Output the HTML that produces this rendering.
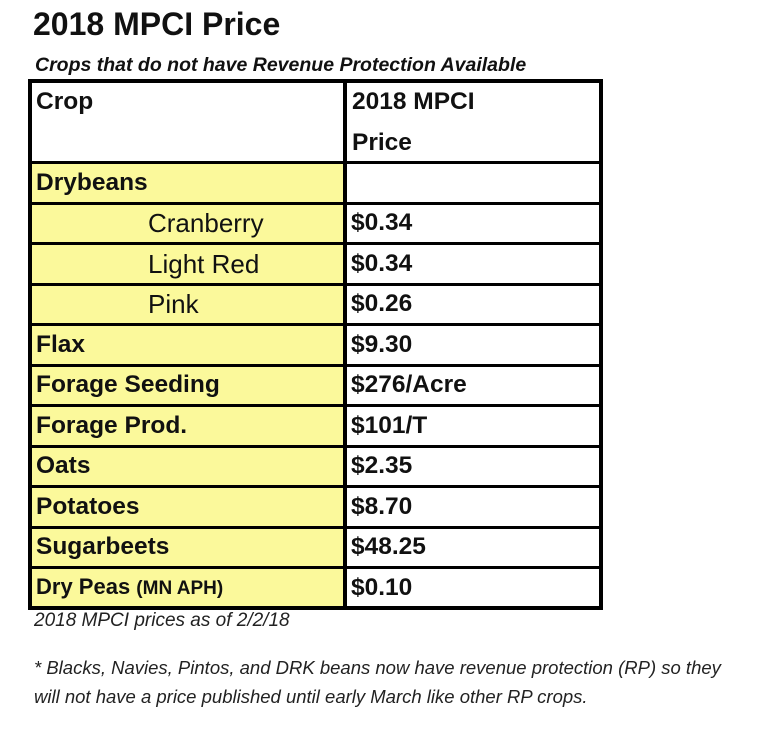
<!DOCTYPE html>
<html><head><style>
body{margin:0;width:768px;height:735px;background:#fff;font-family:"Liberation Sans",sans-serif;position:relative;overflow:hidden}
.a{position:absolute}
.t{position:absolute;font-weight:bold;font-size:24.5px;color:#111;white-space:nowrap}
.n{position:absolute;font-size:26px;color:#111;white-space:nowrap}
.h{position:absolute;background:#000}
.y{position:absolute;background:#fbf99b}
</style></head><body>
<div class="t" style="left:33px;top:6px;font-size:32px">2018 MPCI Price</div>
<div class="t" style="left:35px;top:54px;font-size:19.5px;font-style:italic">Crops that do not have Revenue Protection Available</div>

<div class="y" style="left:30px;top:163px;width:315px;height:445px"></div>

<div class="h" style="left:28px;top:79px;width:575px;height:4px"></div>
<div class="h" style="left:28px;top:606px;width:575px;height:4px"></div>
<div class="h" style="left:28px;top:79px;width:4px;height:531px"></div>
<div class="h" style="left:599px;top:79px;width:4px;height:531px"></div>
<div class="h" style="left:343px;top:79px;width:4px;height:531px"></div>
<div class="h" style="left:28px;top:161px;width:575px;height:3px"></div>
<div class="h" style="left:28px;top:202px;width:575px;height:3px"></div>
<div class="h" style="left:28px;top:242px;width:575px;height:3px"></div>
<div class="h" style="left:28px;top:283px;width:575px;height:3px"></div>
<div class="h" style="left:28px;top:323px;width:575px;height:3px"></div>
<div class="h" style="left:28px;top:364px;width:575px;height:3px"></div>
<div class="h" style="left:28px;top:404px;width:575px;height:3px"></div>
<div class="h" style="left:28px;top:445px;width:575px;height:3px"></div>
<div class="h" style="left:28px;top:485px;width:575px;height:3px"></div>
<div class="h" style="left:28px;top:526px;width:575px;height:3px"></div>
<div class="h" style="left:28px;top:566px;width:575px;height:3px"></div>

<div class="t" style="left:36px;top:88px">Crop</div>
<div class="t" style="left:352px;top:88px">2018 MPCI</div>
<div class="t" style="left:352px;top:129px">Price</div>
<div class="t" style="left:36px;top:169px">Drybeans</div>
<div class="n" style="left:148px;top:208px">Cranberry</div>
<div class="n" style="left:148px;top:249px">Light Red</div>
<div class="n" style="left:148px;top:289px">Pink</div>
<div class="t" style="left:36px;top:331px">Flax</div>
<div class="t" style="left:36px;top:371px">Forage Seeding</div>
<div class="t" style="left:36px;top:412px">Forage Prod.</div>
<div class="t" style="left:36px;top:452px">Oats</div>
<div class="t" style="left:36px;top:493px">Potatoes</div>
<div class="t" style="left:36px;top:533px">Sugarbeets</div>
<div class="t" style="left:36px;top:574px;font-size:22px">Dry Peas <span style="font-size:19px">(MN APH)</span></div>

<div class="t" style="left:351px;top:209px">$0.34</div>
<div class="t" style="left:351px;top:250px">$0.34</div>
<div class="t" style="left:351px;top:290px">$0.26</div>
<div class="t" style="left:351px;top:331px">$9.30</div>
<div class="t" style="left:351px;top:371px">$276/Acre</div>
<div class="t" style="left:351px;top:412px">$101/T</div>
<div class="t" style="left:351px;top:452px">$2.35</div>
<div class="t" style="left:351px;top:493px">$8.70</div>
<div class="t" style="left:351px;top:533px">$48.25</div>
<div class="t" style="left:351px;top:574px">$0.10</div>

<div class="a" style="left:34px;top:610px;font-size:19px;font-style:italic;color:#222">2018 MPCI prices as of 2/2/18</div>
<div class="a" style="left:34px;top:653px;font-size:18.5px;font-style:italic;color:#222;line-height:29px;white-space:nowrap">* Blacks, Navies, Pintos, and DRK beans now have revenue protection (RP) so they<br>will not have a price published until early March like other RP crops.</div>
</body></html>
